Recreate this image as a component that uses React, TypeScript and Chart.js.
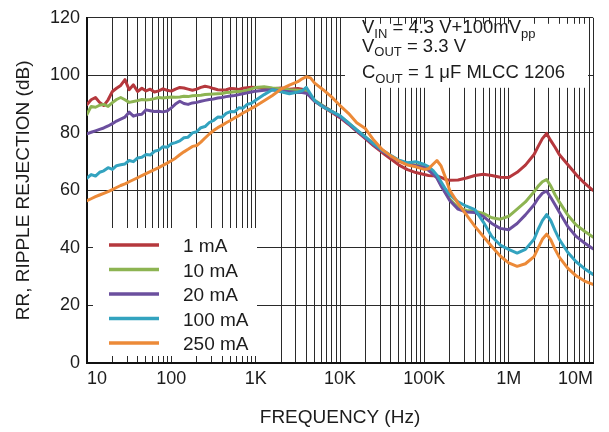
import React, { useEffect, useRef } from "react";
import { Chart, registerables } from "chart.js";

Chart.register(...registerables);

const FONT = "'Liberation Sans', Arial, Helvetica, sans-serif";
const INK = "#1c1c1c";

// Frequency (Hz) sample points
const FREQ = [
  10, 11.2, 12.6, 14.1, 15.8, 17.8, 20, 22.4, 25.1, 28.2, 31.6, 35.5, 39.8, 44.7, 50.1, 56.2, 63.1, 70.8, 79.4, 89.1,
  100, 112, 126, 141, 158, 178, 200, 224, 251, 282, 316, 355, 398, 447, 501, 562, 631, 708, 794, 891, 1000,
  1260, 1580, 2000, 2510, 3160, 3550, 3980, 4470, 5010, 6310, 7940,
  10000, 12600, 15800, 20000, 25100, 31600, 39800, 50100, 63100, 79400,
  100000, 112000, 126000, 141000, 158000, 178000, 200000,
  251000, 316000, 398000, 501000, 631000, 794000,
  1000000, 1260000, 1580000, 2000000, 2240000, 2510000, 2820000, 3160000, 3550000, 3980000, 5010000, 6310000, 7940000, 10000000,
];

// Ripple rejection (dB)
const RR_1MA = [
  89.9, 91.5, 92.3, 90.6, 89.5, 91.5, 94.4, 95.5, 96.5, 98.5, 95, 96.7, 94.4, 95.5, 94.6, 95.2, 94.2, 94.6, 95.3, 94.8,
  94.5, 95.2, 95.8, 95.6, 95.2, 94.8, 95.2, 95.8, 96.2, 95.9, 95.4, 95, 94.9, 95, 95.4, 95.3, 95.1, 95.5, 95.7, 95.9, 95.8,
  95.6, 95.3, 95.6, 95.2, 95.4, 95.2, 94.8, 92.5, 91, 89, 87.2,
  85.3, 83, 80.5, 78, 75.5, 73.2, 71, 68.8, 67.2, 66.2,
  65.5, 65.2, 65.1, 65, 64.5, 63.8, 63.5,
  63.6, 64.3, 65.2, 65.6, 65.2, 64.6,
  64.5, 66.3, 68.8, 72.5, 75.3, 78, 79.8, 77.3, 75, 72.5, 69, 65.5, 62.5, 60,
];
const RR_10MA = [
  86.5, 89.2, 88.9, 89.6, 89.9, 89.2, 90.5, 91.6, 92.3, 91.5, 90.6, 90.9, 91.2, 91.6, 91.4, 91.6, 91.9, 92.3, 92.1, 92.3,
  92.5, 92.4, 92.5, 92.7, 92.6, 92.9, 93, 93.1, 93.3, 93.4, 93.5, 93.6, 93.7, 94, 94.1, 94.3, 94.4, 94.5, 94.8, 95.3, 95.8,
  96, 95.6, 95.3, 95, 94.8, 94.7, 94.4, 92.8, 91.3, 89.4, 87.6,
  85.8, 83.5, 81, 78.6, 76.2, 74, 72, 70.4, 69.3, 68.8,
  68.3, 67.3, 66, 64.5, 62, 59.3, 57,
  54, 53, 52.8, 52, 50.5, 50,
  51, 53.5, 56, 59.5, 61.5, 63, 63.8, 61.5, 58.5, 56, 51.5, 48, 45.8, 43.8,
];
const RR_20MA = [
  79.7, 80.2, 80.7, 81.2, 81.7, 82.4, 83.2, 84.1, 84.8, 85.5, 87.2, 85.8, 86.3, 86.5, 88, 87.7, 87.4, 87.5, 87.3, 87.6,
  88.7, 90, 91, 90.2, 89.9, 90.4, 90.6, 91, 91.3, 91.6, 91.8, 92.1, 92.3, 92.6, 92.8, 93, 93.3, 93.6, 93.9, 94.2, 94.5,
  94.8, 95, 94.6, 94.3, 94, 94, 93.8, 92.5, 91, 89.2, 87.5,
  85.5, 83.2, 80.7, 78.3, 75.8, 73.7, 71.8, 70.2, 69.2, 68.6,
  68, 67, 65.8, 64.3, 61.5, 59, 56.5,
  53.5, 52.5, 52.3, 51, 48.5, 46.8,
  46.3, 48.5, 51.5, 55, 57.3, 59, 59.8, 57.5, 55, 52.5, 47.5, 44, 41.7, 39.7,
];
const RR_100MA = [
  64.3, 65.5, 65, 66.3, 66.8, 67.9, 67.3, 68.6, 68.9, 69.2, 70.4, 70, 71.3, 71.5, 72.5, 72.3, 73.6, 74, 75.2, 75,
  76.2, 76.6, 77.2, 78.3, 78.5, 80, 80.4, 81.8, 82.2, 83.6, 84.3, 85.5, 85.4, 86.8, 87.4, 87.3, 88.7, 88.6, 89.9, 90.3, 91.3,
  93.3, 95, 94.3, 93.6, 94.2, 94.6, 95.8, 93.5, 91.2, 89, 87.5,
  86, 83.5, 81, 78.6, 76.2, 74, 72.2, 70.5, 69.6, 70,
  69, 68.3, 67, 65.3, 63, 60.5, 58.5,
  56, 54.5, 53.3, 49, 44, 41,
  39.5, 38.2, 39.5, 43, 46.5, 49.5, 51.6, 49.5, 46, 43, 38.5, 35.2, 32.8, 30.8,
];
const RR_250MA = [
  56.4, 57.1, 57.8, 58.4, 59, 59.6, 60.3, 61, 61.7, 62.3, 63, 63.7, 64.4, 65.1, 65.8, 66.5, 67.2, 67.9, 68.7, 69.5,
  70.3, 71.2, 72.4, 73.4, 74.3, 75.3, 75.6, 76.8, 78.2, 79.6, 80.8, 81.8, 82.6, 83.5, 84.3, 85.2, 86, 86.9, 87.7, 88.5, 89.3,
  91.2, 93, 95.2, 96.6, 97.8, 98.8, 99.5, 99.1, 97.3, 95, 92.5,
  89.5, 86.8, 83.5, 81.5, 77.5, 74.2, 72, 70.2, 68.8, 68.2,
  67.3, 67.5, 69, 70.4, 68.5, 64.5, 60,
  55.5, 51.5, 47.5, 44, 40.5, 37.2,
  34.8, 33.6, 34.5, 37, 40, 43, 44.8, 42.8, 39.5, 36.8, 33, 30.3, 28.5, 27.3,
];

const SERIES_LABELS = ["1 mA", "10 mA", "20 mA", "100 mA", "250 mA"];
const SERIES_COLORS = ["#b5383d", "#8db452", "#6b4f9e", "#33a3bf", "#ec8a38"];
const SERIES_VALUES = [RR_1MA, RR_10MA, RR_20MA, RR_100MA, RR_250MA];
const DRAW_ORDER = [4, 3, 2, 1, 0];

// Grid / ticks
const X_GRID = [
  10, 20, 30, 40, 50, 60, 70, 80, 90,
  100, 200, 300, 400, 500, 600, 700, 800, 900,
  1e3, 2e3, 3e3, 4e3, 5e3, 6e3, 7e3, 8e3, 9e3,
  1e4, 2e4, 3e4, 4e4, 5e4, 6e4, 7e4, 8e4, 9e4,
  1e5, 2e5, 3e5, 4e5, 5e5, 6e5, 7e5, 8e5, 9e5,
  1e6, 2e6, 3e6, 4e6, 5e6, 6e6, 7e6, 8e6, 9e6,
  1e7,
];
const DECADES = [10, 100, 1e3, 1e4, 1e5, 1e6, 1e7];
const DECADE_LABELS = ["10", "100", "1K", "10K", "100K", "1M", "10M"];

// Annotation text lines: [text, isSubscript]
const NOTE_LINES: [string, boolean][][] = [
  [["V", false], ["IN", true], [" = 4.3 V+100mV", false], ["pp", true]],
  [["V", false], ["OUT", true], [" = 3.3 V", false]],
  [["C", false], ["OUT", true], [" = 1 \u03BCF MLCC 1206", false]],
];

export default function App() {
  const ref = useRef<HTMLCanvasElement>(null);

  useEffect(() => {
    const canvas = ref.current!;

    const overlay = {
      id: "overlayBoxes",
      afterDraw(chart: any) {
        const { ctx, chartArea: a } = chart;
        ctx.save();
        ctx.fillStyle = "#ffffff";
        // legend box
        ctx.fillRect(a.left + 6, a.bottom - 135, 164, 128);
        // note box
        ctx.fillRect(a.right - 248, a.top + 6, 243, 64);

        // legend
        ctx.textBaseline = "alphabetic";
        ctx.textAlign = "left";
        SERIES_LABELS.forEach((lab, i) => {
          const y = a.bottom - 118 + i * 24.5;
          ctx.strokeStyle = SERIES_COLORS[i];
          ctx.lineWidth = 3.5;
          ctx.lineCap = "butt";
          ctx.beginPath();
          ctx.moveTo(a.left + 22, y);
          ctx.lineTo(a.left + 72, y);
          ctx.stroke();
          ctx.fillStyle = INK;
          ctx.font = `19px ${FONT}`;
          ctx.fillText(lab, a.left + 96, y + 7);
        });

        // note text
        const baselines = [a.top + 15.5, a.top + 34, a.top + 60.5];
        NOTE_LINES.forEach((segs, li) => {
          let x = a.right - 231;
          segs.forEach(([t, sub]) => {
            ctx.font = sub ? `13px ${FONT}` : `18.5px ${FONT}`;
            ctx.fillStyle = INK;
            ctx.fillText(t, x, baselines[li] + (sub ? 4.5 : 0));
            x += ctx.measureText(t).width;
          });
        });
        ctx.restore();
      },
    };

    const chart = new Chart(canvas, {
      type: "line",
      data: {
        datasets: SERIES_VALUES.map((vals, s) => ({
          label: SERIES_LABELS[s],
          data: FREQ.map((f, i) => ({ x: f, y: vals[i] })),
          borderColor: SERIES_COLORS[s],
          backgroundColor: SERIES_COLORS[s],
          borderWidth: 3,
          pointRadius: 0,
          fill: false,
          tension: 0,
          borderJoinStyle: "round",
          borderCapStyle: "round",
          order: DRAW_ORDER[s],
        })),
      },
      options: {
        responsive: false,
        animation: false,
        layout: { padding: { top: 12, right: 16, bottom: 0, left: 0 } },
        plugins: { legend: { display: false }, tooltip: { enabled: false } },
        scales: {
          x: {
            type: "logarithmic",
            min: 10,
            max: 1e7,
            afterBuildTicks: (s: any) => {
              s.ticks = X_GRID.map((v) => ({ value: v }));
            },
            afterFit: (s: any) => {
              s.height = 69;
            },
            grid: { color: "#2a2a2a", lineWidth: 1, drawTicks: false },
            border: { color: "#111", width: 2 },
            ticks: {
              autoSkip: false,
              maxRotation: 0,
              minRotation: 0,
              align: "inner",
              padding: 5,
              color: INK,
              font: { size: 18, family: FONT },
              callback: (v: any) => {
                const i = DECADES.indexOf(Number(v));
                return i >= 0 ? DECADE_LABELS[i] : "";
              },
            },
            title: {
              display: true,
              text: "FREQUENCY (Hz)",
              color: INK,
              font: { size: 19, family: FONT },
              padding: { top: 0, bottom: 3 },
            },
          },
          y: {
            min: 0,
            max: 120,
            afterFit: (s: any) => {
              s.width = 87;
            },
            grid: { color: "#2a2a2a", lineWidth: 1, drawTicks: false },
            border: { color: "#111", width: 2 },
            ticks: {
              stepSize: 20,
              padding: 7,
              color: INK,
              font: { size: 18, family: FONT },
            },
            title: {
              display: true,
              text: "RR, RIPPLE REJECTION (dB)",
              color: INK,
              font: { size: 19, family: FONT },
              padding: { top: 12, bottom: 0 },
            },
          },
        },
      } as any,
      plugins: [overlay],
    });

    return () => chart.destroy();
  }, []);

  return (
    <div style={{ position: "fixed", left: 0, top: 0, width: 609, height: 432, background: "#fff" }}>
      <canvas ref={ref} width={609} height={432} style={{ display: "block", width: 609, height: 432 }} />
    </div>
  );
}
